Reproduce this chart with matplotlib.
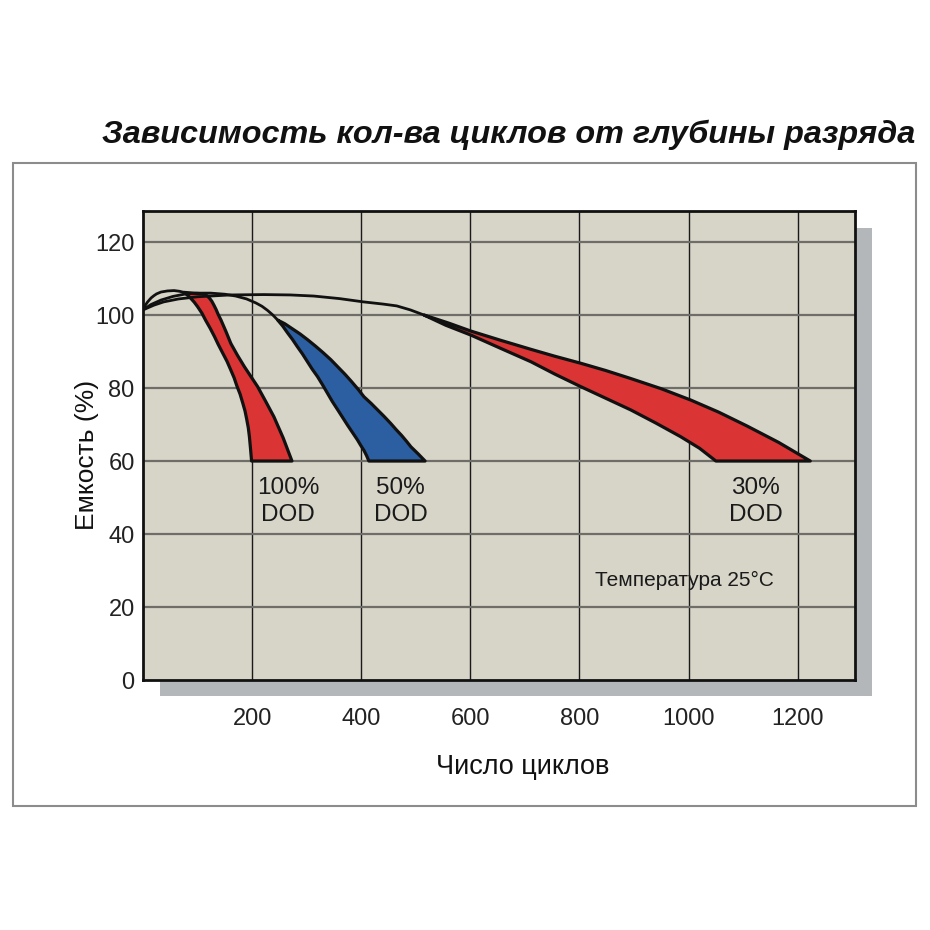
import matplotlib
matplotlib.use('Agg')
import matplotlib.pyplot as plt
from matplotlib.patches import Rectangle, Polygon

# envelope arcs from the start point
arc100_x = [0, 4, 8, 12, 15, 20, 25, 33, 45, 57, 67, 75]
arc100_y = [101.4, 102.6, 103.5, 104.2, 104.7, 105.3, 105.8, 106.3, 106.6, 106.7, 106.5, 106.2]
arc50_x = [0, 15, 33, 55, 79, 100, 124, 150, 170, 190, 207, 218, 228, 238, 247]
arc50_y = [101.4, 102.9, 104.1, 105.1, 105.8, 106.0, 106.0, 105.7, 105.2, 104.4, 103.3, 102.4, 101.3, 100.0, 98.6]
arc30_x = [0, 20, 38, 65, 100, 160, 221, 270, 313, 360, 404, 440, 465, 490, 515]
arc30_y = [101.4, 102.7, 103.6, 104.4, 105.0, 105.5, 105.6, 105.5, 105.2, 104.5, 103.6, 103.0, 102.5, 101.4, 100.0]

# DOD bands: left (lower) edge and right (upper) edge down to 60 %
dod100_left_x = [75, 82, 88, 94, 100, 108, 115, 123, 131, 138, 146, 154, 161, 167, 172, 178, 183, 187, 190, 193, 195, 197, 199]
dod100_left_y = [106.2, 105.4, 104.5, 103.5, 102.3, 100.5, 98.5, 96.4, 94.1, 91.9, 89.6, 87.3, 84.9, 82.8, 80.6, 78.3, 75.8, 73.7, 71.5, 69.1, 66.7, 63.5, 60]
dod100_right_x = [75, 92, 109, 114, 118, 122, 126, 130, 134, 138, 143, 152, 161, 173, 186, 198, 210, 225, 240, 257, 273]
dod100_right_y = [106.2, 106.0, 105.8, 105.6, 105.2, 104.6, 103.8, 102.7, 101.5, 100.1, 98.6, 95.5, 92.2, 89.0, 85.8, 83.1, 80.4, 76.3, 72.1, 66.3, 60]

dod50_left_x = [247, 256, 265, 274, 283, 292, 301, 310, 320, 329, 338, 347, 357, 366, 375, 384, 393, 399, 405, 410, 414]
dod50_left_y = [98.6, 97.0, 95.1, 93.3, 91.3, 89.4, 87.3, 85.2, 83.1, 80.9, 78.6, 76.3, 74.0, 71.9, 69.8, 67.8, 65.8, 64.3, 62.9, 61.4, 60]
dod50_right_x = [247, 260, 273, 288, 302, 316, 330, 344, 357, 370, 382, 394, 405, 418, 430, 442, 454, 464, 474, 483, 491, 504, 517]
dod50_right_y = [98.6, 97.6, 96.3, 94.8, 93.2, 91.5, 89.7, 87.8, 85.8, 83.8, 81.8, 79.7, 77.6, 75.8, 74.0, 72.2, 70.3, 68.6, 67.0, 65.4, 63.9, 62.0, 60]

dod30_left_x = [515, 555, 601, 655, 711, 755, 802, 848, 894, 940, 985, 1020, 1050]
dod30_left_y = [100.0, 97.2, 94.5, 90.9, 87.2, 83.8, 80.4, 77.2, 74.0, 70.4, 66.7, 63.5, 60]
dod30_right_x = [515, 560, 601, 655, 711, 755, 802, 848, 894, 950, 1004, 1055, 1107, 1165, 1223]
dod30_right_y = [100.0, 97.8, 95.6, 93.1, 90.6, 88.7, 86.8, 84.8, 82.6, 79.8, 76.7, 73.4, 69.6, 65.1, 60]

bands = [
    (dod100_left_x, dod100_left_y, dod100_right_x, dod100_right_y, '#da3434'),
    (dod50_left_x, dod50_left_y, dod50_right_x, dod50_right_y, '#2b5fa2'),
    (dod30_left_x, dod30_left_y, dod30_right_x, dod30_right_y, '#da3434'),
]

labels = ['100%\nDOD', '50%\nDOD', '30%\nDOD']
label_x = [266, 472, 1123]

xticks = [200, 400, 600, 800, 1000, 1200]
yticks = [0, 20, 40, 60, 80, 100, 120]

plain = ['Liberation Sans', 'DejaVu Sans']

W = 930
fig = plt.figure(figsize=(9.3, 9.3), dpi=100)

def fx(px):
    return px / W

def fy(py):
    return 1 - py / W

# outer frame
fig.patches.append(Rectangle((fx(13), fy(806)), fx(916) - fx(13), fy(163) - fy(806),
                             transform=fig.transFigure, fill=False,
                             edgecolor='#8c8c8c', lw=1.5, zorder=0))
# shadow
fig.patches.append(Rectangle((fx(160), fy(696)), fx(872) - fx(160), fy(228) - fy(696),
                             transform=fig.transFigure, facecolor='#b3b7ba',
                             edgecolor='none', zorder=0))

ax = fig.add_axes([fx(143), fy(680), fx(855) - fx(143), fy(211) - fy(680)])
ax.set_zorder(5)
ax.set_facecolor('#d7d4c8')
ax.set_xlim(0, 1305)
ax.set_ylim(0, 128.5)

for v in xticks:
    ax.axvline(v, color='#1a1a1a', lw=1.0, zorder=1)
for v in yticks[1:]:
    ax.axhline(v, color='#6f6d68', lw=1.6, zorder=1)

for lx, ly, rx, ry, c in bands:
    pts = list(zip(lx, ly)) + list(zip(rx, ry))[::-1]
    ax.add_patch(Polygon(pts, closed=True, facecolor=c, edgecolor='#111111',
                         lw=2.3, joinstyle='round', zorder=3))

for xs, ys in [(arc100_x, arc100_y), (arc50_x, arc50_y), (arc30_x, arc30_y)]:
    ax.plot(xs, ys, color='#111111', lw=2.0, solid_joinstyle='round',
            solid_capstyle='round', zorder=4)

for t, x in zip(labels, label_x):
    ax.text(x, 49, t, ha='center', va='center', fontsize=17.5, family=plain,
            color='#1a1a1a', linespacing=1.3, zorder=5)

ax.text((684 - 142) / 0.546, (680 - 580) / 3.65, 'Температура 25°C',
        ha='center', va='center', fontsize=15, family=plain, color='#1a1a1a', zorder=5)

ax.set_xticks(xticks)
ax.set_yticks(yticks)
ax.set_xticklabels([str(v) for v in xticks], family=plain, fontsize=17, color='#222222')
ax.set_yticklabels([str(v) for v in yticks], family=plain, fontsize=17, color='#222222')
ax.tick_params(axis='x', length=0, pad=20)
ax.tick_params(axis='y', length=0, pad=6)
for s in ax.spines.values():
    s.set_linewidth(2)
    s.set_color('#111111')

ax.set_xlabel('Число циклов', family=plain, fontsize=19.5, color='#111111')
ax.xaxis.set_label_coords((523 - 143) / 712, -(754 - 680) / 469)
ax.set_ylabel('Емкость (%)', family=plain, fontsize=19, color='#111111')
ax.yaxis.set_label_coords(-(143 - 99) / 712, (680 - 455) / 469)

fig.text(fx(915), fy(135), 'Зависимость кол-ва циклов от глубины разряда',
         ha='right', va='center', fontsize=23.3, fontweight='bold', fontstyle='italic',
         family=plain, color='#111111')

fig.savefig('out.png', dpi=100, facecolor='white')
